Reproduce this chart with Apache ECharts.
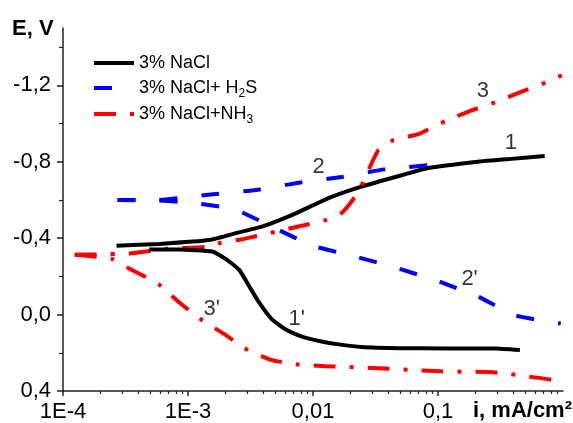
<!DOCTYPE html>
<html>
<head>
<meta charset="utf-8">
<script src="https://cdn.jsdelivr.net/npm/echarts@6/dist/echarts.min.js"></script>
<style>html,body{margin:0;padding:0;background:#fff}#chartsBox1{width:573px;height:423px}</style>
</head>
<body>
<div id="chartsBox1"></div>
<script>
var font = 'Arial, "Liberation Sans", sans-serif';
var legendNames = ['3% NaCl', '3% NaCl+ H2S', '3% NaCl+NH3'];
var color = ['#000000', '#0000ff', '#ff0000'];

// 1 - 3% NaCl, upper branch
var i1 = [2.68e-4, 5.9e-4, 1.48e-3, 2.56e-3, 3.9e-3, 7.28e-3, 0.0133, 0.0244, 0.0456, 0.0836, 0.209, 0.383, 0.714];
var e1 = [-0.36, -0.37, -0.39, -0.43, -0.46, -0.53, -0.61, -0.67, -0.72, -0.767, -0.80, -0.815, -0.83];
// 1' - 3% NaCl, lower branch
var i1b = [4.9e-4, 8.5e-4, 1.56e-3, 2.01e-3, 2.56e-3, 3.08e-3, 3.69e-3, 4.69e-3, 6.05e-3, 8.13e-3, 0.0117, 0.016, 0.0244, 0.05, 0.114, 0.286, 0.452];
var e1b = [-0.34, -0.34, -0.33, -0.29, -0.235, -0.15, -0.065, 0.025, 0.078, 0.115, 0.141, 0.156, 0.17, 0.176, 0.177, 0.177, 0.185];
// 2 - + H2S, upper
var i2 = [2.73e-4, 5.8e-4, 8.5e-4, 1.59e-3, 3.49e-3, 7.69e-3, 0.01695, 0.0372, 0.095];
var e2 = [-0.60, -0.60, -0.61, -0.63, -0.652, -0.69, -0.72, -0.76, -0.785];
// 2' - + H2S, lower
var i2b = [2.73e-4, 5.8e-4, 1.08e-3, 2.38e-3, 4.86e-3, 9.95e-3, 0.0215, 0.0473, 0.0984, 0.209, 0.42, 0.96];
var e2b = [-0.60, -0.597, -0.585, -0.55, -0.455, -0.36, -0.305, -0.243, -0.177, -0.094, 0.005, 0.047];
// 3 - + NH3, upper
var i3 = [1.24e-4, 1.855e-4, 3.4e-4, 6.82e-4, 1.4e-3, 1.84e-3, 2.8e-3, 7.98e-3, 0.01285, 0.01695, 0.01995, 0.0235, 0.0278, 0.0334, 0.044, 0.0695, 0.114, 0.1775, 0.286, 0.452, 0.728, 0.977];
var e3 = [-0.313, -0.315, -0.32, -0.344, -0.355, -0.376, -0.396, -0.464, -0.496, -0.532, -0.584, -0.652, -0.756, -0.861, -0.913, -0.944, -1.012, -1.064, -1.111, -1.163, -1.215, -1.252];
// 3' - + NH3, lower
var i3b = [1.24e-4, 1.855e-4, 2.49e-4, 3.28e-4, 4.73e-4, 5.9e-4, 8.83e-4, 1.3e-3, 1.98e-3, 2.91e-3, 4.6e-3, 7.7e-3, 0.0126, 0.037, 0.106, 0.275, 0.689, 0.859];
var e3b = [-0.313, -0.303, -0.29, -0.245, -0.193, -0.156, -0.055, 0.03, 0.105, 0.18, 0.237, 0.262, 0.27, 0.282, 0.297, 0.302, 0.334, 0.344];

// curve labels
var labText = ['1', '2', '3', "1'", "2'", "3'"];
var labI = [0.383, 0.0111, 0.229, 0.00741, 0.179, 0.001545];
var labE = [-0.90, -0.772, -1.171, 0.021, -0.185, -0.031];

var xMajor = [1e-4, 1e-3, 0.01, 0.1];
var xMajorLabels = ['1E-4', '1E-3', '0,01', '0,1'];
var yMajor = [-1.2, -0.8, -0.4, 0, 0.4];
var yMinor = [-1.4, -1.0, -0.6, -0.2, 0.2];
var xMinor = [];
[1e-4, 1e-3, 1e-2, 1e-1].forEach(function (d) {
    for (var m = 2; m <= 9; m++) xMinor.push(d * m);
});

function pairs(xs, ys) {
    return xs.map(function (x, k) { return [x, ys[k]]; });
}

var blueDash = [18, 24];
var redDash = [22, 14, 4, 14];

function curve(name, xs, ys, c, dash) {
    return {
        name: name,
        type: 'line',
        data: pairs(xs, ys),
        symbol: 'none',
        smooth: 0.15,
        itemStyle: { color: c },
        lineStyle: { color: c, width: 4, type: dash || 'solid' }
    };
}

var axisCol = '#222';

option1 = {
    animation: false,
    backgroundColor: '#fff',
    grid: { left: 63, right: 10, top: 28, bottom: 32, outerBoundsMode: 'none' },
    legend: {
        orient: 'vertical',
        left: 87,
        top: 47,
        itemWidth: 40,
        itemHeight: 14,
        itemGap: 3,
        data: legendNames,
        itemStyle: { opacity: 0 },
        lineStyle: { width: 4 },
        formatter: function (name) {
            return name.replace(/([A-Z])(\d)/g, '$1{s|$2}');
        },
        textStyle: {
            fontFamily: font,
            fontSize: 18,
            color: '#000',
            lineHeight: 22,
            rich: {
                s: { fontSize: 12, fontFamily: font, color: '#000', padding: [12, 0, 0, 0] }
            }
        }
    },
    xAxis: [
        {
            type: 'log',
            logBase: 10,
            min: 1e-4,
            max: 1,
            axisLine: { onZero: false, lineStyle: { color: axisCol, width: 1.5 } },
            axisTick: { customValues: xMajor, length: 5, lineStyle: { color: axisCol, width: 1.5 } },
            axisLabel: {
                customValues: xMajor,
                margin: 10,
                fontSize: 22,
                fontFamily: font,
                color: '#000',
                formatter: function (v) {
                    for (var k = 0; k < xMajor.length; k++) {
                        if (Math.abs(Math.log10(v) - Math.log10(xMajor[k])) < 0.01) return xMajorLabels[k];
                    }
                    return '';
                }
            },
            splitLine: { show: false }
        },
        {
            type: 'log',
            logBase: 10,
            min: 1e-4,
            max: 1,
            position: 'bottom',
            axisLine: { show: false, onZero: false },
            axisTick: { customValues: xMinor, length: 3, lineStyle: { color: axisCol, width: 1.2 } },
            axisLabel: { show: false },
            splitLine: { show: false }
        }
    ],
    yAxis: [
        {
            type: 'value',
            inverse: true,
            min: -1.5,
            max: 0.4,
            position: 'left',
            axisLine: { show: true, onZero: false, lineStyle: { color: axisCol, width: 1.5 } },
            axisTick: { show: true, customValues: yMajor, length: 6, lineStyle: { color: axisCol, width: 1.5 } },
            axisLabel: {
                customValues: yMajor,
                margin: 12,
                fontSize: 22,
                fontFamily: font,
                color: '#000',
                formatter: function (v) { return (Math.abs(v) < 1e-9 ? 0 : v).toFixed(1).replace('.', ','); }
            },
            splitLine: { show: false }
        },
        {
            type: 'value',
            inverse: true,
            min: -1.5,
            max: 0.4,
            position: 'left',
            axisLine: { show: false, onZero: false },
            axisTick: { show: true, customValues: yMinor, length: 4, lineStyle: { color: axisCol, width: 1.2 } },
            axisLabel: { show: false },
            splitLine: { show: false }
        }
    ],
    graphic: [
        { type: 'text', style: { x: 12, y: 29, text: 'E, V', font: 'bold 22px ' + font, fill: '#000', verticalAlign: 'middle' } },
        { type: 'text', style: { x: 572, y: 411, text: 'i, mA/cm\u00b2', font: 'bold 22px ' + font, fill: '#000', align: 'right', verticalAlign: 'middle' } }
    ],
    series: [
        curve(legendNames[0], i1, e1, color[0]),
        curve(legendNames[1], i2, e2, color[1], blueDash),
        curve(legendNames[2], i3, e3, color[2], redDash),
        curve(legendNames[0], i1b, e1b, color[0]),
        curve(legendNames[1], i2b, e2b, color[1], blueDash),
        curve(legendNames[2], i3b, e3b, color[2], redDash),
        {
            type: 'scatter',
            silent: true,
            symbolSize: 0,
            data: pairs(labI, labE),
            label: {
                show: true,
                position: 'inside',
                fontSize: 22,
                fontFamily: font,
                color: '#000',
                formatter: function (p) { return labText[p.dataIndex]; }
            }
        }
    ]
};

var chartsBox1 = echarts.init(document.getElementById('chartsBox1'));
chartsBox1.setOption(option1);
</script>
</body>
</html>
